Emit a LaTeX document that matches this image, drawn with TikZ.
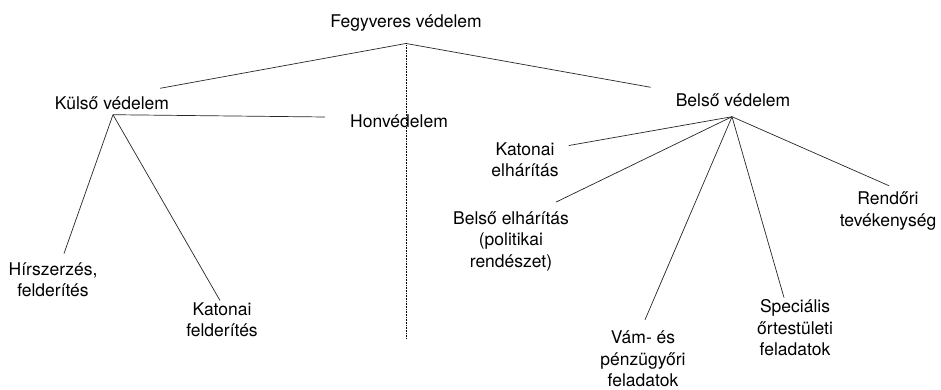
\documentclass[tikz,border=0pt]{standalone}
\usepackage{fontspec}
\setmainfont{TeX Gyre Heros}
\tikzset{label box/.style = {inner sep = 0pt, align = center, font = \fontsize{17.5}{21.5}\selectfont}}
\tikzset{branch/.style = {line width = 0.7pt, draw = black!85}}
\tikzset{divider/.style = {line width = 0.6pt, densely dotted}}

\begin{document}
\begin{tikzpicture}[x = 1pt, y = 1pt]

  \useasboundingbox (0 , 0) rectangle (941 , 390);

  \node [label box] (fegyveres) at (406 , 367) {Fegyveres védelem};
  \node [label box] (kulso) at (112 , 287) {Külső védelem};
  \node [label box] (honved) at (399 , 269) {Honvédelem};
  \node [label box] (belso) at (733 , 290) {Belső védelem};

  \node [label box] (hirszerzes) at (53 , 110) {Hírszerzés,\\felderítés};
  \node [label box] (katfelderites) at (222 , 70) {Katonai\\felderítés};

  \node [label box] (katelharitas) at (525 , 230) {Katonai\\elhárítás};
  \node [label box] (belelharitas) at (511 , 149) {Belső elhárítás\\(politikai\\rendészet)};
  \node [label box] (rendori) at (888 , 179) {Rendőri\\tevékenység};
  \node [label box] (vam) at (643 , 31) {Vám- és\\pénzügyőri\\feladatok};
  \node [label box] (specialis) at (795 , 62) {Speciális\\őrtestületi\\feladatok};

  \coordinate (fegyveresJ) at ([yshift = -12pt] fegyveres.south);
  \coordinate (kulsoJ) at ([xshift = 1pt, yshift = -5pt] kulso.south);
  \coordinate (belsoJ) at ([xshift = -1pt, yshift = -10pt] belso.south);
  \coordinate (dividerEnd) at (406 , 52);

  \draw [branch] (fegyveresJ) -- ([xshift = -9pt, yshift = 8pt] kulso.north east);
  \draw [branch] (fegyveresJ) -- ([xshift = -25pt, yshift = 6pt] belso.north west);
  \draw [divider] (fegyveresJ) -- (dividerEnd);

  \draw [branch] (kulsoJ) -- ([xshift = -25pt, yshift = 4pt] honved.west);
  \draw [branch] (kulsoJ) -- ([xshift = 11pt, yshift = 9pt] hirszerzes.north);
  \draw [branch] (kulsoJ) -- ([xshift = -2pt, yshift = 2pt] katfelderites.north);

  \draw [branch] (belsoJ) -- ([xshift = 10pt, yshift = -3pt] katelharitas.north east);
  \draw [branch] (belsoJ) -- ([xshift = -13pt, yshift = 9pt] belelharitas.north east);
  \draw [branch] (belsoJ) -- ([xshift = 1pt, yshift = 6pt] rendori.north);
  \draw [branch] (belsoJ) -- ([xshift = 2pt, yshift = 11pt] vam.north);
  \draw [branch] (belsoJ) -- ([xshift = -11pt, yshift = 2pt] specialis.north);

\end{tikzpicture}
\end{document}
